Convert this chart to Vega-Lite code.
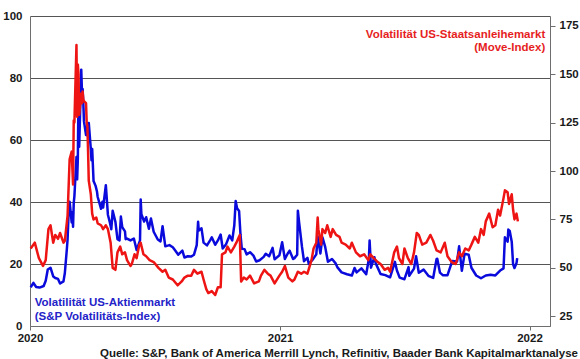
{
  "$schema": "https://vega.github.io/schema/vega-lite/v6.json",
  "width": 520,
  "height": 310,
  "autosize": "none",
  "padding": {"left": 30, "top": 16, "right": 30, "bottom": 33},
  "background": "white",
  "config": {
    "font": "Liberation Sans",
    "view": {"stroke": null},
    "axis": {
      "labelFont": "Liberation Sans",
      "labelFontSize": 11.5,
      "labelFontWeight": "bold",
      "labelColor": "#1a1a1a",
      "domainColor": "#6e6e6e",
      "tickColor": "#6e6e6e",
      "gridColor": "#555555",
      "gridWidth": 1,
      "labelOverlap": false
    }
  },
  "title": {
    "text": "Quelle: S&P, Bank of America Merrill Lynch, Refinitiv, Baader Bank Kapitalmarktanalyse",
    "orient": "bottom",
    "anchor": "end",
    "frame": "group",
    "dx": 28,
    "offset": 4,
    "font": "Liberation Sans",
    "fontSize": 11.5,
    "fontWeight": "bold",
    "color": "#1a1a1a"
  },
  "datasets": {
    "vix": [
      {"date": "2020-01-02", "v": 12.5}, {"date": "2020-01-06", "v": 13.9}, {"date": "2020-01-10", "v": 12.6},
      {"date": "2020-01-15", "v": 12.4}, {"date": "2020-01-21", "v": 12.9}, {"date": "2020-01-24", "v": 14.6},
      {"date": "2020-01-27", "v": 18.2}, {"date": "2020-01-31", "v": 18.8}, {"date": "2020-02-04", "v": 16.0},
      {"date": "2020-02-07", "v": 15.5}, {"date": "2020-02-11", "v": 15.2}, {"date": "2020-02-14", "v": 13.7},
      {"date": "2020-02-19", "v": 14.4}, {"date": "2020-02-21", "v": 17.1}, {"date": "2020-02-24", "v": 25.0},
      {"date": "2020-02-25", "v": 27.9}, {"date": "2020-02-27", "v": 39.2}, {"date": "2020-02-28", "v": 40.1},
      {"date": "2020-03-02", "v": 33.4}, {"date": "2020-03-03", "v": 36.8}, {"date": "2020-03-04", "v": 32.0},
      {"date": "2020-03-05", "v": 39.6}, {"date": "2020-03-06", "v": 41.9}, {"date": "2020-03-09", "v": 54.5},
      {"date": "2020-03-10", "v": 47.3}, {"date": "2020-03-11", "v": 53.9}, {"date": "2020-03-12", "v": 75.5},
      {"date": "2020-03-13", "v": 57.8}, {"date": "2020-03-16", "v": 82.7}, {"date": "2020-03-17", "v": 75.9},
      {"date": "2020-03-18", "v": 76.5}, {"date": "2020-03-19", "v": 72.0}, {"date": "2020-03-20", "v": 66.0},
      {"date": "2020-03-23", "v": 61.6}, {"date": "2020-03-24", "v": 64.0}, {"date": "2020-03-26", "v": 61.0},
      {"date": "2020-03-27", "v": 65.5}, {"date": "2020-03-30", "v": 57.1}, {"date": "2020-03-31", "v": 53.5},
      {"date": "2020-04-01", "v": 57.1}, {"date": "2020-04-03", "v": 46.8}, {"date": "2020-04-06", "v": 45.2},
      {"date": "2020-04-08", "v": 43.4}, {"date": "2020-04-09", "v": 41.7}, {"date": "2020-04-14", "v": 37.8},
      {"date": "2020-04-16", "v": 40.1}, {"date": "2020-04-17", "v": 38.2}, {"date": "2020-04-21", "v": 45.4},
      {"date": "2020-04-24", "v": 35.9}, {"date": "2020-04-27", "v": 33.3}, {"date": "2020-04-29", "v": 31.2},
      {"date": "2020-05-01", "v": 37.2}, {"date": "2020-05-05", "v": 33.6}, {"date": "2020-05-08", "v": 28.0},
      {"date": "2020-05-11", "v": 27.6}, {"date": "2020-05-13", "v": 35.3}, {"date": "2020-05-15", "v": 31.9},
      {"date": "2020-05-19", "v": 30.5}, {"date": "2020-05-20", "v": 28.0}, {"date": "2020-05-22", "v": 28.2},
      {"date": "2020-05-27", "v": 27.6}, {"date": "2020-06-01", "v": 28.2}, {"date": "2020-06-05", "v": 24.5},
      {"date": "2020-06-10", "v": 27.6}, {"date": "2020-06-11", "v": 40.8}, {"date": "2020-06-12", "v": 36.1},
      {"date": "2020-06-16", "v": 33.7}, {"date": "2020-06-19", "v": 35.1}, {"date": "2020-06-23", "v": 31.4},
      {"date": "2020-06-26", "v": 34.7}, {"date": "2020-06-30", "v": 30.4}, {"date": "2020-07-06", "v": 27.9},
      {"date": "2020-07-10", "v": 27.3}, {"date": "2020-07-13", "v": 32.2}, {"date": "2020-07-17", "v": 25.7},
      {"date": "2020-07-23", "v": 26.1}, {"date": "2020-07-28", "v": 25.4}, {"date": "2020-07-31", "v": 24.5},
      {"date": "2020-08-05", "v": 23.0}, {"date": "2020-08-11", "v": 24.3}, {"date": "2020-08-14", "v": 22.1},
      {"date": "2020-08-19", "v": 22.5}, {"date": "2020-08-24", "v": 22.4}, {"date": "2020-08-28", "v": 23.0},
      {"date": "2020-09-01", "v": 26.1}, {"date": "2020-09-03", "v": 33.6}, {"date": "2020-09-04", "v": 30.8},
      {"date": "2020-09-08", "v": 31.5}, {"date": "2020-09-11", "v": 26.9}, {"date": "2020-09-16", "v": 26.0},
      {"date": "2020-09-21", "v": 27.8}, {"date": "2020-09-23", "v": 28.6}, {"date": "2020-09-28", "v": 26.2},
      {"date": "2020-10-02", "v": 27.6}, {"date": "2020-10-06", "v": 29.5}, {"date": "2020-10-09", "v": 25.0},
      {"date": "2020-10-14", "v": 26.4}, {"date": "2020-10-19", "v": 29.2}, {"date": "2020-10-23", "v": 27.6},
      {"date": "2020-10-26", "v": 32.5}, {"date": "2020-10-28", "v": 40.3}, {"date": "2020-10-30", "v": 38.0},
      {"date": "2020-11-02", "v": 37.1}, {"date": "2020-11-04", "v": 29.6}, {"date": "2020-11-06", "v": 24.9},
      {"date": "2020-11-10", "v": 24.8}, {"date": "2020-11-13", "v": 23.1}, {"date": "2020-11-18", "v": 23.8},
      {"date": "2020-11-23", "v": 22.7}, {"date": "2020-11-27", "v": 20.8}, {"date": "2020-12-02", "v": 21.2},
      {"date": "2020-12-08", "v": 22.3}, {"date": "2020-12-11", "v": 23.3}, {"date": "2020-12-16", "v": 22.5},
      {"date": "2020-12-21", "v": 25.2}, {"date": "2020-12-24", "v": 21.5}, {"date": "2020-12-31", "v": 22.8},
      {"date": "2021-01-04", "v": 27.0}, {"date": "2021-01-08", "v": 21.6}, {"date": "2021-01-12", "v": 23.3},
      {"date": "2021-01-15", "v": 24.3}, {"date": "2021-01-20", "v": 21.6}, {"date": "2021-01-22", "v": 21.9},
      {"date": "2021-01-26", "v": 23.0}, {"date": "2021-01-27", "v": 37.2}, {"date": "2021-01-29", "v": 33.1},
      {"date": "2021-02-02", "v": 25.6}, {"date": "2021-02-05", "v": 20.9}, {"date": "2021-02-10", "v": 22.0},
      {"date": "2021-02-12", "v": 20.0}, {"date": "2021-02-18", "v": 21.5}, {"date": "2021-02-23", "v": 23.1},
      {"date": "2021-02-25", "v": 28.9}, {"date": "2021-03-01", "v": 23.4}, {"date": "2021-03-04", "v": 28.6},
      {"date": "2021-03-08", "v": 25.5}, {"date": "2021-03-12", "v": 20.7}, {"date": "2021-03-18", "v": 21.6},
      {"date": "2021-03-23", "v": 20.3}, {"date": "2021-03-26", "v": 18.9}, {"date": "2021-04-01", "v": 17.3},
      {"date": "2021-04-09", "v": 16.7}, {"date": "2021-04-16", "v": 16.3}, {"date": "2021-04-20", "v": 18.7},
      {"date": "2021-04-23", "v": 17.3}, {"date": "2021-04-30", "v": 18.6}, {"date": "2021-05-07", "v": 16.7},
      {"date": "2021-05-11", "v": 21.8}, {"date": "2021-05-12", "v": 27.6}, {"date": "2021-05-14", "v": 18.8},
      {"date": "2021-05-19", "v": 22.2}, {"date": "2021-05-21", "v": 20.2}, {"date": "2021-05-28", "v": 16.8},
      {"date": "2021-06-04", "v": 16.4}, {"date": "2021-06-11", "v": 15.7}, {"date": "2021-06-18", "v": 20.7},
      {"date": "2021-06-21", "v": 17.9}, {"date": "2021-06-25", "v": 15.6}, {"date": "2021-07-02", "v": 15.1},
      {"date": "2021-07-08", "v": 19.0}, {"date": "2021-07-09", "v": 16.2}, {"date": "2021-07-16", "v": 18.5},
      {"date": "2021-07-19", "v": 22.5}, {"date": "2021-07-23", "v": 17.2}, {"date": "2021-07-30", "v": 18.2},
      {"date": "2021-08-06", "v": 16.2}, {"date": "2021-08-13", "v": 15.5}, {"date": "2021-08-18", "v": 21.6},
      {"date": "2021-08-19", "v": 21.7}, {"date": "2021-08-23", "v": 17.2}, {"date": "2021-08-27", "v": 16.4},
      {"date": "2021-09-03", "v": 16.4}, {"date": "2021-09-10", "v": 21.0}, {"date": "2021-09-17", "v": 20.8},
      {"date": "2021-09-20", "v": 25.7}, {"date": "2021-09-24", "v": 17.8}, {"date": "2021-09-28", "v": 23.3},
      {"date": "2021-10-04", "v": 23.0}, {"date": "2021-10-08", "v": 18.8}, {"date": "2021-10-15", "v": 16.3},
      {"date": "2021-10-22", "v": 15.4}, {"date": "2021-10-29", "v": 16.3}, {"date": "2021-11-05", "v": 16.5},
      {"date": "2021-11-12", "v": 16.3}, {"date": "2021-11-19", "v": 17.9}, {"date": "2021-11-24", "v": 18.6},
      {"date": "2021-11-26", "v": 28.6}, {"date": "2021-11-30", "v": 27.2}, {"date": "2021-12-01", "v": 31.1},
      {"date": "2021-12-03", "v": 30.7}, {"date": "2021-12-06", "v": 27.2}, {"date": "2021-12-08", "v": 19.9},
      {"date": "2021-12-10", "v": 18.7}, {"date": "2021-12-13", "v": 20.3}, {"date": "2021-12-14", "v": 21.9}
    ],
    "move": [
      {"date": "2020-01-02", "m": 60}, {"date": "2020-01-08", "m": 63}, {"date": "2020-01-14", "m": 55},
      {"date": "2020-01-20", "m": 51}, {"date": "2020-01-24", "m": 54}, {"date": "2020-01-28", "m": 70},
      {"date": "2020-01-31", "m": 72}, {"date": "2020-02-04", "m": 63}, {"date": "2020-02-07", "m": 67},
      {"date": "2020-02-11", "m": 65}, {"date": "2020-02-14", "m": 68}, {"date": "2020-02-19", "m": 63},
      {"date": "2020-02-21", "m": 64}, {"date": "2020-02-25", "m": 77}, {"date": "2020-02-28", "m": 106},
      {"date": "2020-03-02", "m": 110}, {"date": "2020-03-04", "m": 93}, {"date": "2020-03-05", "m": 126},
      {"date": "2020-03-06", "m": 125}, {"date": "2020-03-09", "m": 165}, {"date": "2020-03-10", "m": 128},
      {"date": "2020-03-11", "m": 155}, {"date": "2020-03-12", "m": 150}, {"date": "2020-03-13", "m": 129},
      {"date": "2020-03-16", "m": 140}, {"date": "2020-03-17", "m": 135}, {"date": "2020-03-18", "m": 141},
      {"date": "2020-03-19", "m": 137}, {"date": "2020-03-20", "m": 136}, {"date": "2020-03-23", "m": 135},
      {"date": "2020-03-24", "m": 125}, {"date": "2020-03-25", "m": 123}, {"date": "2020-03-26", "m": 110},
      {"date": "2020-03-27", "m": 95}, {"date": "2020-03-30", "m": 88}, {"date": "2020-04-01", "m": 78},
      {"date": "2020-04-03", "m": 75}, {"date": "2020-04-07", "m": 76}, {"date": "2020-04-09", "m": 73},
      {"date": "2020-04-14", "m": 72}, {"date": "2020-04-17", "m": 70}, {"date": "2020-04-21", "m": 72},
      {"date": "2020-04-24", "m": 70}, {"date": "2020-04-28", "m": 63}, {"date": "2020-05-01", "m": 50},
      {"date": "2020-05-05", "m": 49}, {"date": "2020-05-08", "m": 58}, {"date": "2020-05-12", "m": 61},
      {"date": "2020-05-15", "m": 57}, {"date": "2020-05-19", "m": 58}, {"date": "2020-05-22", "m": 54},
      {"date": "2020-05-27", "m": 51}, {"date": "2020-05-29", "m": 52}, {"date": "2020-06-02", "m": 57},
      {"date": "2020-06-05", "m": 55}, {"date": "2020-06-09", "m": 62}, {"date": "2020-06-11", "m": 63},
      {"date": "2020-06-15", "m": 57}, {"date": "2020-06-19", "m": 56}, {"date": "2020-06-24", "m": 54},
      {"date": "2020-06-30", "m": 53}, {"date": "2020-07-07", "m": 50}, {"date": "2020-07-13", "m": 48},
      {"date": "2020-07-17", "m": 49}, {"date": "2020-07-22", "m": 45}, {"date": "2020-07-28", "m": 44},
      {"date": "2020-08-04", "m": 41}, {"date": "2020-08-10", "m": 43}, {"date": "2020-08-14", "m": 45},
      {"date": "2020-08-19", "m": 46}, {"date": "2020-08-24", "m": 46}, {"date": "2020-08-28", "m": 49},
      {"date": "2020-09-02", "m": 47}, {"date": "2020-09-08", "m": 48}, {"date": "2020-09-11", "m": 44},
      {"date": "2020-09-15", "m": 39}, {"date": "2020-09-18", "m": 37}, {"date": "2020-09-23", "m": 38},
      {"date": "2020-09-28", "m": 36}, {"date": "2020-10-02", "m": 40}, {"date": "2020-10-06", "m": 40},
      {"date": "2020-10-08", "m": 57}, {"date": "2020-10-13", "m": 58}, {"date": "2020-10-16", "m": 61},
      {"date": "2020-10-21", "m": 58}, {"date": "2020-10-26", "m": 61}, {"date": "2020-10-29", "m": 63},
      {"date": "2020-11-03", "m": 67}, {"date": "2020-11-05", "m": 43}, {"date": "2020-11-09", "m": 45},
      {"date": "2020-11-13", "m": 44}, {"date": "2020-11-18", "m": 46}, {"date": "2020-11-24", "m": 42},
      {"date": "2020-12-01", "m": 43}, {"date": "2020-12-04", "m": 46}, {"date": "2020-12-09", "m": 49},
      {"date": "2020-12-14", "m": 47}, {"date": "2020-12-18", "m": 46}, {"date": "2020-12-24", "m": 42},
      {"date": "2020-12-31", "m": 46}, {"date": "2021-01-04", "m": 48}, {"date": "2021-01-08", "m": 51},
      {"date": "2021-01-13", "m": 45}, {"date": "2021-01-19", "m": 43}, {"date": "2021-01-22", "m": 44},
      {"date": "2021-01-27", "m": 48}, {"date": "2021-02-01", "m": 47}, {"date": "2021-02-05", "m": 48},
      {"date": "2021-02-10", "m": 47}, {"date": "2021-02-16", "m": 54}, {"date": "2021-02-19", "m": 60},
      {"date": "2021-02-23", "m": 63}, {"date": "2021-02-25", "m": 76}, {"date": "2021-02-26", "m": 70},
      {"date": "2021-03-02", "m": 62}, {"date": "2021-03-04", "m": 70}, {"date": "2021-03-08", "m": 68},
      {"date": "2021-03-11", "m": 72}, {"date": "2021-03-16", "m": 66}, {"date": "2021-03-19", "m": 70},
      {"date": "2021-03-24", "m": 67}, {"date": "2021-03-29", "m": 66}, {"date": "2021-04-01", "m": 63},
      {"date": "2021-04-07", "m": 62}, {"date": "2021-04-13", "m": 60}, {"date": "2021-04-16", "m": 63},
      {"date": "2021-04-22", "m": 58}, {"date": "2021-04-28", "m": 56}, {"date": "2021-05-04", "m": 57},
      {"date": "2021-05-10", "m": 54}, {"date": "2021-05-13", "m": 57}, {"date": "2021-05-18", "m": 55},
      {"date": "2021-05-24", "m": 53}, {"date": "2021-05-28", "m": 52}, {"date": "2021-06-03", "m": 49},
      {"date": "2021-06-08", "m": 50}, {"date": "2021-06-11", "m": 48}, {"date": "2021-06-17", "m": 58},
      {"date": "2021-06-21", "m": 61}, {"date": "2021-06-24", "m": 55}, {"date": "2021-06-29", "m": 52},
      {"date": "2021-07-02", "m": 60}, {"date": "2021-07-07", "m": 55}, {"date": "2021-07-12", "m": 52},
      {"date": "2021-07-16", "m": 58}, {"date": "2021-07-20", "m": 68}, {"date": "2021-07-23", "m": 67},
      {"date": "2021-07-28", "m": 62}, {"date": "2021-08-03", "m": 63}, {"date": "2021-08-09", "m": 67},
      {"date": "2021-08-13", "m": 64}, {"date": "2021-08-18", "m": 59}, {"date": "2021-08-24", "m": 58},
      {"date": "2021-08-30", "m": 63}, {"date": "2021-09-03", "m": 56}, {"date": "2021-09-09", "m": 53},
      {"date": "2021-09-15", "m": 52}, {"date": "2021-09-20", "m": 58}, {"date": "2021-09-24", "m": 56},
      {"date": "2021-09-29", "m": 60}, {"date": "2021-10-04", "m": 59}, {"date": "2021-10-08", "m": 62},
      {"date": "2021-10-13", "m": 66}, {"date": "2021-10-18", "m": 63}, {"date": "2021-10-22", "m": 70},
      {"date": "2021-10-26", "m": 67}, {"date": "2021-10-29", "m": 74}, {"date": "2021-11-03", "m": 78},
      {"date": "2021-11-08", "m": 71}, {"date": "2021-11-12", "m": 72}, {"date": "2021-11-16", "m": 80},
      {"date": "2021-11-19", "m": 77}, {"date": "2021-11-24", "m": 86}, {"date": "2021-11-26", "m": 90},
      {"date": "2021-11-30", "m": 89}, {"date": "2021-12-02", "m": 83}, {"date": "2021-12-06", "m": 88},
      {"date": "2021-12-08", "m": 80}, {"date": "2021-12-10", "m": 75}, {"date": "2021-12-13", "m": 78},
      {"date": "2021-12-15", "m": 74}
    ]
  },
  "layer": [
    {
      "layer": [
        {
          "data": {"name": "vix"},
          "mark": {"type": "line", "color": "#0a0adc", "strokeWidth": 2.5, "strokeJoin": "round"},
          "encoding": {
            "x": {
              "field": "date", "type": "temporal", "title": null,
              "scale": {"domain": [{"year": 2020, "month": 1, "date": 1}, {"year": 2022, "month": 1, "date": 31}]},
              "axis": {"format": "%Y", "tickCount": {"interval": "year", "step": 1}, "grid": false, "tickSize": 4, "labelPadding": 2, "labelFlush": false}
            },
            "y": {
              "field": "v", "type": "quantitative", "title": null,
              "scale": {"domain": [0, 100]},
              "axis": {"orient": "left", "values": [0, 20, 40, 60, 80, 100], "grid": true, "ticks": false, "labelPadding": 8}
            }
          }
        },
        {
          "data": {"values": [{}]},
          "mark": {"type": "text", "align": "left", "baseline": "alphabetic", "font": "Liberation Sans", "fontSize": 11.5, "fontWeight": "bold", "color": "#2323c8", "lineHeight": 14},
          "encoding": {
            "x": {"datum": {"year": 2020, "month": 1, "date": 8}, "type": "temporal", "title": null},
            "y": {"datum": 6.5, "type": "quantitative", "title": null},
            "text": {"value": ["Volatilität US-Aktienmarkt", "(S&P Volatilitäts-Index)"]}
          }
        }
      ]
    },
    {
      "layer": [
        {
          "data": {"name": "move"},
          "mark": {"type": "line", "color": "#ee1414", "strokeWidth": 2.5, "strokeJoin": "round"},
          "encoding": {
            "x": {"field": "date", "type": "temporal", "title": null},
            "y": {
              "field": "m", "type": "quantitative", "title": null,
              "scale": {"domain": [25, 175]},
              "axis": {"orient": "right", "values": [25, 50, 75, 100, 125, 150, 175], "grid": false, "tickSize": 5, "labelPadding": 4}
            }
          }
        },
        {
          "data": {"values": [{}]},
          "mark": {"type": "text", "align": "right", "baseline": "alphabetic", "font": "Liberation Sans", "fontSize": 11.5, "fontWeight": "bold", "color": "#e61e1e", "lineHeight": 13},
          "encoding": {
            "x": {"datum": {"year": 2022, "month": 1, "date": 24}, "type": "temporal", "title": null},
            "y": {"datum": 168.9, "type": "quantitative", "title": null},
            "text": {"value": ["Volatilität US-Staatsanleihemarkt", "(Move-Index)"]}
          }
        }
      ]
    }
  ],
  "resolve": {"scale": {"y": "independent"}, "axis": {"y": "independent"}}
}
